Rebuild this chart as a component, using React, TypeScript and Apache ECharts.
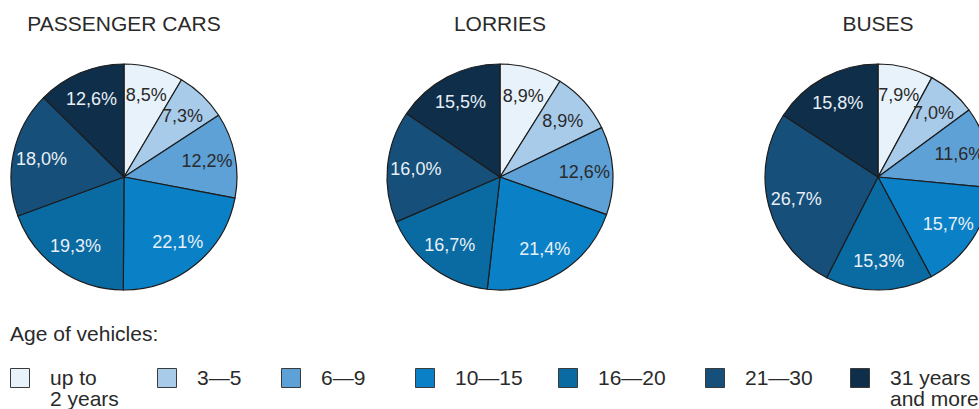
import React, { useEffect, useRef } from "react";
import * as echarts from "echarts";

const CATEGORIES = ["up to\n2 years", "3—5", "6—9", "10—15", "16—20", "21—30", "31 years\nand more"];
const TITLES = ["PASSENGER CARS", "LORRIES", "BUSES"];
const PASSENGER_CARS = [8.5, 7.3, 12.2, 22.1, 19.3, 18.0, 12.6];
const LORRIES = [8.9, 8.9, 12.6, 21.4, 16.7, 16.0, 15.5];
const BUSES = [7.9, 7.0, 11.6, 15.7, 15.3, 26.7, 15.8];
const LEGEND_TITLE = "Age of vehicles:";

// styles / layout
const COLORS = ["#e7f2fb", "#a8cbea", "#5ea1d7", "#0a80c6", "#0a6aa2", "#164f79", "#0f2e4a"];
const LABEL_COLORS = ["#2a2a2a", "#2a2a2a", "#2a2a2a", "#e8f0f7", "#e8f0f7", "#e8f0f7", "#e8f0f7"];
const CENTERS: [number, number][] = [[124, 177], [500, 177], [878, 177]];
const RADIUS = 113;
const LEGEND_X = [10, 157, 281, 415, 558, 705, 850];
const FONT = "'Liberation Sans', Arial, Helvetica, sans-serif";

const fmt = (v: number) => v.toFixed(1).replace(".", ",") + "%";

export default function App() {
  const ref = useRef<HTMLDivElement>(null);
  useEffect(() => {
    if (!ref.current) return;
    const chart = echarts.init(ref.current, undefined, { renderer: "svg" });
    const datasets = [PASSENGER_CARS, LORRIES, BUSES];
    const series: any[] = [];
    datasets.forEach((vals, i) => {
      series.push({
        type: "pie",
        center: CENTERS[i],
        radius: [0, RADIUS],
        startAngle: 90,
        clockwise: true,
        silent: true,
        label: { show: false },
        labelLine: { show: false },
        itemStyle: { borderColor: "#1c1c1c", borderWidth: 1.2 },
        data: vals.map((v, k) => ({ name: CATEGORIES[k], value: v, itemStyle: { color: COLORS[k] } })),
      });
      series.push({
        type: "pie",
        center: CENTERS[i],
        radius: [50, RADIUS],
        startAngle: 90,
        clockwise: true,
        silent: true,
        avoidLabelOverlap: false,
        labelLine: { show: false },
        itemStyle: { color: "transparent", borderWidth: 0 },
        label: {
          show: true,
          position: "inside",
          fontFamily: FONT,
          fontSize: 18,
          formatter: (p: any) => fmt(p.value),
        },
        data: vals.map((v, k) => ({
          name: CATEGORIES[k],
          value: v,
          label: { color: LABEL_COLORS[k] },
        })),
      });
    });

    const graphics: any[] = [
      {
        type: "text",
        left: 10,
        top: 323,
        style: { text: LEGEND_TITLE, font: `21px ${FONT}`, fill: "#2a2a2a" },
      },
    ];
    CATEGORIES.forEach((c, k) => {
      graphics.push({
        type: "rect",
        shape: { x: LEGEND_X[k] + 0.5, y: 368.5, width: 19, height: 19 },
        style: { fill: COLORS[k], stroke: "#3a3a3a", lineWidth: 1 },
      });
      graphics.push({
        type: "text",
        x: LEGEND_X[k] + 40,
        y: 367,
        style: {
          text: c,
          font: `21px ${FONT}`,
          fill: "#2a2a2a",
          lineHeight: 21,
          verticalAlign: "top",
        },
      });
    });

    chart.setOption({
      animation: false,
      backgroundColor: "#ffffff",
      title: TITLES.map((t, i) => ({
        text: t,
        left: CENTERS[i][0],
        top: 13,
        padding: 0,
        textAlign: "center",
        textStyle: { fontFamily: FONT, fontSize: 21, fontWeight: "normal", color: "#2a2a2a" },
      })),
      series,
      graphic: graphics,
    });
    return () => chart.dispose();
  }, []);
  return (
    <div
      ref={ref}
      style={{ position: "fixed", left: 0, top: 0, width: 979, height: 409, background: "#fff" }}
    />
  );
}
